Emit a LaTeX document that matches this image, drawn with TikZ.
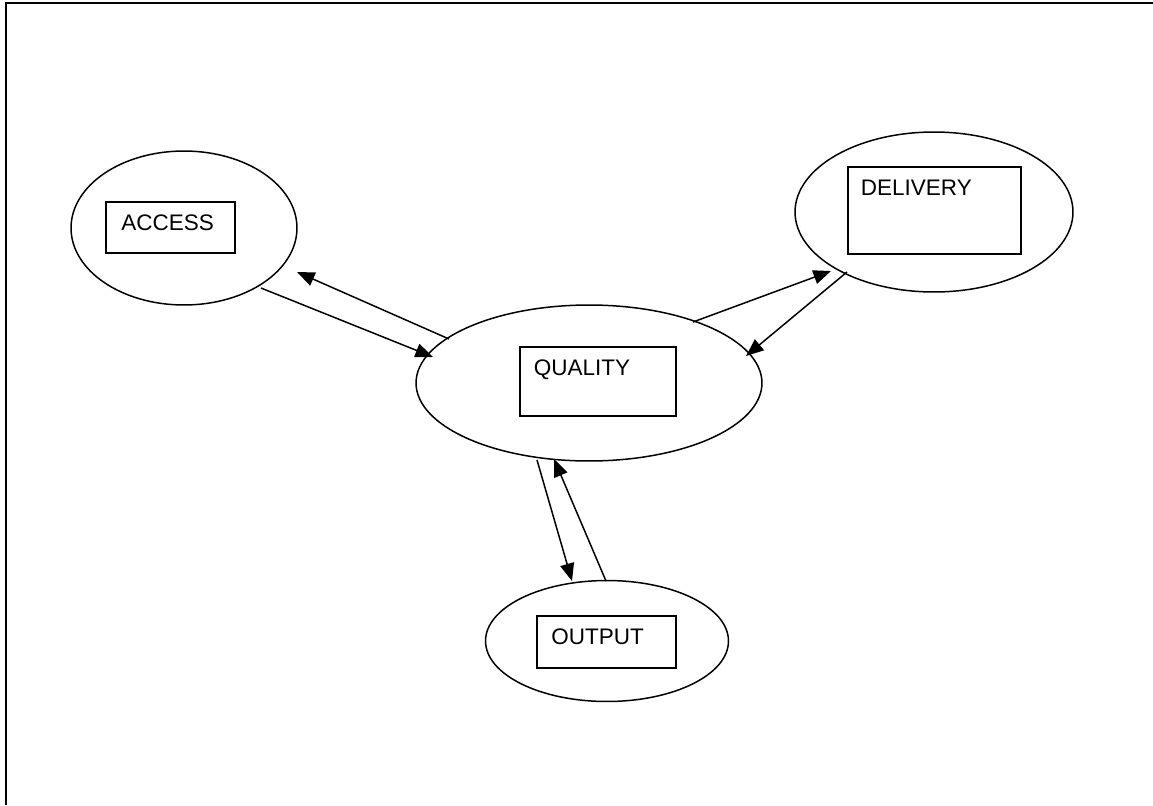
\documentclass[tikz,border=0pt]{standalone}
\usepackage{fontspec}
\setmainfont{Liberation Sans}
\usepackage{tikz}
\usetikzlibrary{shapes.geometric, arrows.meta}

\tikzset{
  area/.style = {ellipse, draw, line width=0.85pt, inner sep=0pt},
  box/.style = {rectangle, draw, line width=0.9pt, inner sep=0pt},
  word/.style = {anchor=base west, inner sep=0pt, font=\fontsize{12.8}{15}\selectfont},
}

\begin{document}
\begin{tikzpicture}[x=0.02cm, y=-0.02cm, > = {Triangle[length=10pt, width=8pt]}, line width=0.85pt]
    \useasboundingbox (0,0) rectangle (1153,805);
    % frame, cut off at right and bottom
    \coordinate (fb) at (6,805);
    \coordinate (fc) at (6,3);
    \coordinate (fr) at (1153,3);
    \draw[line width=1.5pt] (fb) -- (fc) -- (fr);

    % the four areas
    \node[area, minimum width=4.52cm, minimum height=3.08cm] (access) at (184,228) {};
    \node[area, minimum width=5.56cm, minimum height=3.20cm] (delivery) at (934,212) {};
    \node[area, minimum width=6.92cm, minimum height=3.12cm] (quality) at (589,383) {};
    \node[area, minimum width=4.86cm, minimum height=2.42cm] (output) at (607,641) {};

    % text boxes
    \node[box, minimum width=2.58cm, minimum height=1.02cm] (accessb) at (170.5,227.5) {};
    \node[box, minimum width=3.46cm, minimum height=1.74cm] (deliveryb) at (934.5,210.5) {};
    \node[box, minimum width=3.12cm, minimum height=1.38cm] (qualityb) at (598,381.5) {};
    \node[box, minimum width=2.78cm, minimum height=1.04cm] (outputb) at (606.5,642) {};

    \node[word] (accesst) at ([shift={(15.5,29)}]accessb.north west) {ACCESS};
    \node[word] (deliveryt) at ([shift={(13,29.5)}]deliveryb.north west) {DELIVERY};
    \node[word] (qualityt) at ([shift={(14,29)}]qualityb.north west) {QUALITY};
    \node[word] (outputt) at ([shift={(14.5,29)}]outputb.north west) {OUTPUT};

    % arrow ends
    \coordinate (qa1) at (449,339);
    \coordinate (qa2) at (297,272);
    \coordinate (aq1) at (261,288);
    \coordinate (aq2) at (433,357);
    \coordinate (qd1) at (693,322);
    \coordinate (qd2) at (831,271);
    \coordinate (dq1) at (847,272);
    \coordinate (dq2) at (746,356);
    \coordinate (qo1) at (537,460);
    \coordinate (qo2) at (572,581);
    \coordinate (oq1) at (606,581);
    \coordinate (oq2) at (554,459);

    \path[->] (qa1) edge (qa2)
    (aq1) edge (aq2)
    (qd1) edge (qd2)
    (dq1) edge (dq2)
    (qo1) edge (qo2)
    (oq1) edge (oq2);
  \end{tikzpicture}
\end{document}
